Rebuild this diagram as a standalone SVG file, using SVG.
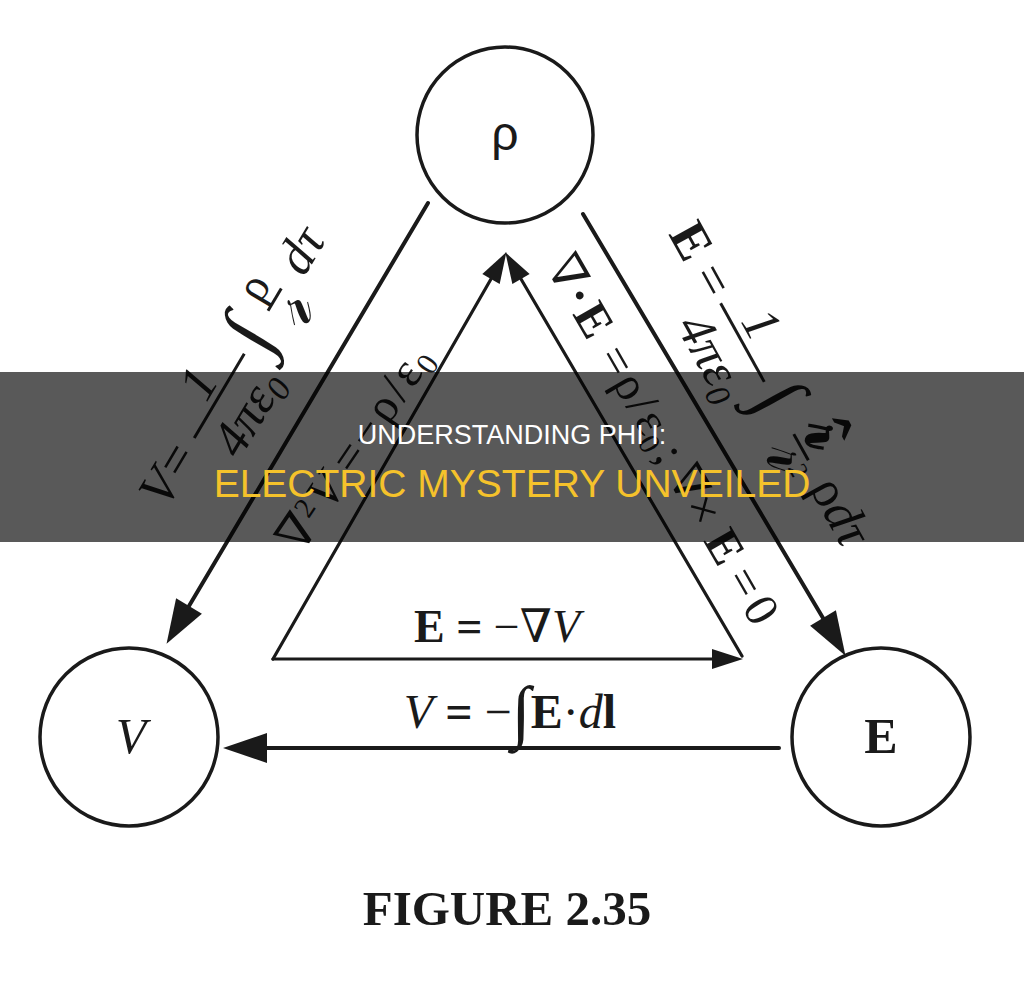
<svg xmlns="http://www.w3.org/2000/svg" width="1024" height="983" viewBox="0 0 1024 983">
<style>
.bg{fill:#ffffff}
.node circle{fill:#ffffff;stroke:#1a1a1a;stroke-width:3.5}
.conn path{fill:none;stroke:#1a1a1a;stroke-linecap:round}
.outer{stroke-width:4}
.inner{stroke-width:3.2}
.m{font-family:"Liberation Serif","DejaVu Serif",serif;fill:#1a1a1a}
.s{font-family:"Liberation Sans","DejaVu Sans",sans-serif}
.b{font-weight:bold}
.i{font-style:italic}
.bar{stroke:#1a1a1a;stroke-width:3}
.mid{text-anchor:middle}
</style>
<defs>
<marker id="ahBig" markerUnits="userSpaceOnUse" markerWidth="44" markerHeight="30" refX="0" refY="15" orient="auto" overflow="visible">
<path d="M0,0 L44,15 L0,30 Z" fill="#1a1a1a"/>
</marker>
<marker id="ahSmall" markerUnits="userSpaceOnUse" markerWidth="31" markerHeight="20" refX="0" refY="10" orient="auto" overflow="visible">
<path d="M0,0 L31,10 L0,20 Z" fill="#1a1a1a"/>
</marker>
</defs>
<rect class="bg" x="0" y="0" width="1024" height="983"/>

<g id="connectors" class="conn">
<path id="c-rho-V" class="outer" d="M428,203 L189,606" marker-end="url(#ahBig)"/>
<path id="c-rho-E" class="outer" d="M583,214 L823,618" marker-end="url(#ahBig)"/>
<path id="c-E-V" class="outer" d="M779,748 L267,748" marker-end="url(#ahBig)"/>
<path id="c-V-rho" class="inner" d="M273,659 L491,279" marker-end="url(#ahSmall)"/>
<path id="c-E-rho" class="inner" d="M742,656 L521,279" marker-end="url(#ahSmall)"/>
<path id="c-V-E" class="inner" d="M273,659 L712,659" marker-end="url(#ahSmall)"/>
</g>

<g id="node-rho" class="node">
<circle cx="505" cy="135" r="88"/>
<text class="s mid" x="505" y="150" font-size="48" fill="#1a1a1a">ρ</text>
</g>
<g id="node-V" class="node">
<circle cx="129" cy="737" r="89"/>
<text class="m i mid" x="131" y="753" font-size="50">V</text>
</g>
<g id="node-E" class="node">
<circle cx="881" cy="737" r="89"/>
<text class="m b mid" x="881" y="753" font-size="50">E</text>
</g>

<g id="label-V-integral" transform="translate(166.2,509.7) rotate(-59.3)">
<text class="m i" x="0" y="0" font-size="52">V</text>
<text class="m mid" x="48" y="0" font-size="52">=</text>
<line class="bar" x1="76" y1="-12.5" x2="174" y2="-12.5"/>
<text class="m i mid" x="125" y="-20" font-size="52">1</text>
<text class="m i mid" x="125" y="38" font-size="52">4πε<tspan font-size="34" dy="8">0</tspan></text>
<text class="m mid" x="193" y="6" font-size="80">∫</text>
<text class="m mid" x="236" y="-24" font-size="46">ρ</text>
<line class="bar" x1="223" y1="-14" x2="249" y2="-14"/>
<text class="m i mid" transform="translate(236,26) scale(1.5)" font-size="46">𝓇</text>
<text class="m i mid" x="292" y="0" font-size="52">dτ</text>
</g>

<g id="label-laplace" transform="translate(301.2,555.1) rotate(-56)">
<text class="m mid" x="16.5" y="0" font-size="48">∇</text>
<text class="m mid" x="41" y="-14" font-size="29">2</text>
<text class="m i mid" x="67" y="0" font-size="48">V</text>
<text class="m mid" x="108" y="0" font-size="48">=</text>
<text class="m mid" x="138" y="0" font-size="48">−</text>
<text class="m mid" x="168" y="0" font-size="48">ρ</text>
<text class="m mid" x="190" y="0" font-size="48">/</text>
<text class="m mid" x="210" y="0" font-size="48">ε</text>
<text class="m mid" x="229" y="8" font-size="31">0</text>
</g>

<g id="label-E-integral" transform="translate(668,234) rotate(61)">
<text class="m b" x="0" y="0" font-size="52">E</text>
<text class="m mid" x="62" y="0" font-size="52">=</text>
<line class="bar" x1="86" y1="-12.5" x2="176" y2="-12.5"/>
<text class="m i mid" x="124" y="-21" font-size="52">1</text>
<text class="m i mid" x="129" y="38" font-size="52">4πε<tspan font-size="34" dy="8">0</tspan></text>
<text class="m mid" x="196" y="6" font-size="76">∫</text>
<text class="m b mid" transform="translate(250,-20) scale(1.5)" font-size="46">𝓇̂</text>
<line class="bar" x1="236" y1="-13" x2="266" y2="-13"/>
<text class="m i mid" transform="translate(255,24) scale(1.5)" font-size="46">𝓇<tspan font-size="17" dy="-10">2</tspan></text>
<text class="m mid" x="326" y="0" font-size="52">ρ<tspan class="i">dτ</tspan></text>
</g>

<g id="label-divergence" transform="translate(544.6,266.3) rotate(60)">
<text class="m mid" x="17" y="0" font-size="48">∇</text>
<text class="m b mid" x="43" y="0" font-size="48">·</text>
<text class="m b mid" x="71" y="0" font-size="48">E</text>
<text class="m mid" x="118" y="0" font-size="48">=</text>
<text class="m mid" x="147" y="0" font-size="48">ρ</text>
<text class="m mid" x="168" y="0" font-size="48">/</text>
<text class="m mid" x="188" y="0" font-size="48">ε</text>
<text class="m mid" x="206" y="8" font-size="30">0</text>
<text class="m mid" x="225" y="0" font-size="48">;</text>
<text class="m mid" x="260" y="0" font-size="48">∇</text>
<text class="m mid" x="290" y="0" font-size="48">×</text>
<text class="m b mid" x="333" y="0" font-size="48">E</text>
<text class="m mid" x="374" y="0" font-size="48">=</text>
<text class="m mid" x="406" y="0" font-size="48">0</text>
</g>

<g id="label-gradient">
<text class="m mid" x="497" y="642" font-size="46"><tspan class="b">E</tspan> <tspan class="b">=</tspan> −∇<tspan class="i">V</tspan></text>
</g>
<g id="label-line-integral">
<text class="m mid" x="510" y="728" font-size="48"><tspan class="i">V</tspan> <tspan class="b">=</tspan> −<tspan font-size="70" dy="7">∫</tspan><tspan class="b" dy="-7">E</tspan>·<tspan class="i">d</tspan><tspan class="b">l</tspan></text>
</g>

<g id="caption">
<text class="m b mid" x="507" y="925" font-size="49">FIGURE 2.35</text>
</g>

<g id="banner">
<rect x="0" y="372" width="1024" height="170" fill="#000000" opacity="0.65"/>
<text class="s mid" x="512" y="444" font-size="27" fill="#ffffff">UNDERSTANDING PHI I:</text>
<text class="s mid" x="512" y="497" font-size="39" fill="#f5c22b">ELECTRIC MYSTERY UNVEILED</text>
</g>
</svg>
